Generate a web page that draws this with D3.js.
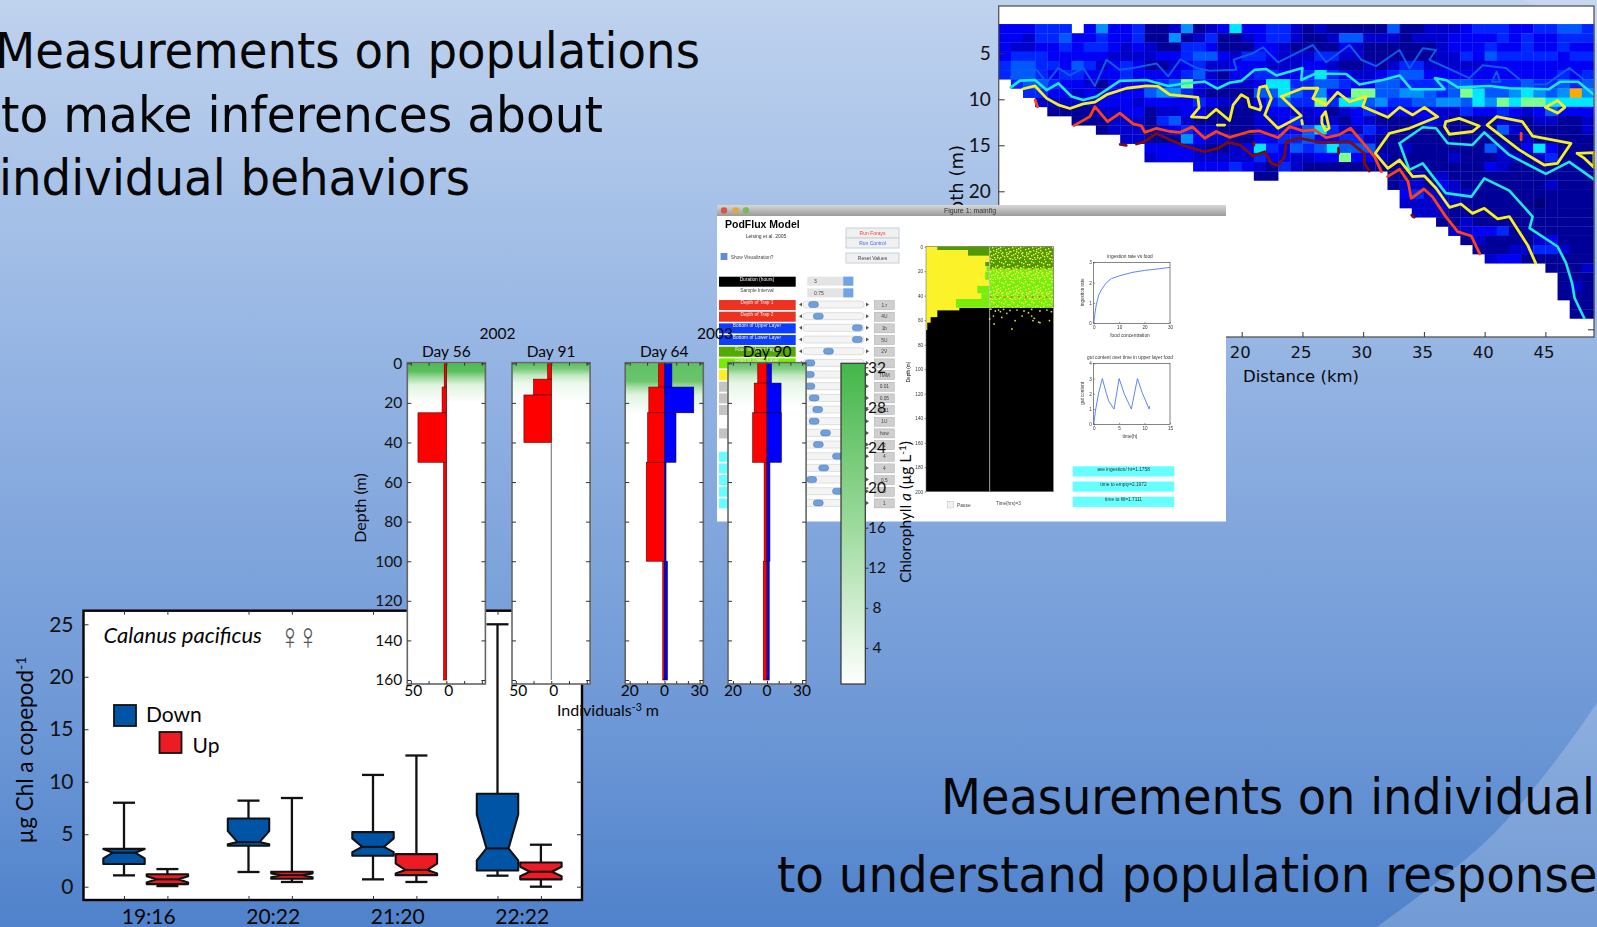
<!DOCTYPE html>
<html>
<head>
<meta charset="utf-8">
<title>Measurements on populations and individuals</title>
<script src="https://cdn.jsdelivr.net/npm/d3@7"></script>
<style>
  html, body { margin: 0; padding: 0; overflow: hidden; background: #5a8ad0; }
  svg { display: block; }
  .lato { font-family: Lato, "Open Sans", sans-serif; }
  .dejavu { font-family: "DejaVu Sans", sans-serif; }
  .pod text { font-family: "Liberation Sans", sans-serif; }
  .domain { display: none; }
</style>
</head>
<body>
<svg id="slide"></svg>
<script>
// ---- headline text
const topLines = ["Measurements on populations", "to make inferences about", "individual behaviors"];
const bottomLines = ["Measurements on individuals", "to understand population responses"];

// ---- box plot (ug Chl a per copepod), one entry per box: low, q1, notchLow, median, notchHigh, q3, high
const boxTimes = ["19:16", "20:22", "21:20", "22:22"];
const boxTicks = [0, 5, 10, 15, 20, 25];
const boxDown = [
  [1.08, 2.16, 2.7, 3.24, 3.6, 3.6, 8.0],
  [1.4, 3.9, 4.05, 4.25, 5.3, 6.5, 8.2],
  [0.7, 2.95, 3.3, 3.8, 4.6, 5.2, 10.65],
  [1.05, 1.55, 2.5, 3.65, 6.85, 8.85, 25.0]
];
const boxUp = [
  [0.06, 0.25, 0.4, 0.7, 1.0, 1.18, 1.68],
  [0.45, 0.76, 0.9, 1.1, 1.27, 1.43, 8.45],
  [0.45, 1.1, 1.27, 1.6, 2.2, 3.1, 12.5],
  [0.0, 0.7, 1.0, 1.43, 1.9, 2.3, 4.0]
];

// ---- vertical profiles, depth bins and individuals m-3
const depthTicks = [0, 20, 40, 60, 80, 100, 120, 140, 160];
const day56Depths = [0, 12, 25, 50, 160];
const day56Red = [3, 6, 40, 4];
const day91Depths = [0, 8, 16, 40, 160];
const day91Red = [5, 25, 38.5, 0];
const day64Depths = [0, 12, 25, 50, 100, 160];
const day64Red = [3.4, 9, 9.7, 10.5, 1];
const day64Blue = [6.3, 25, 9.8, 1.3, 2.5];
const day90Depths = [0, 10, 25, 50, 100, 160];
const day90Red = [5.4, 7.5, 8.4, 1.7, 2.2];
const day90Blue = [3.8, 12, 12.3, 2.5, 1.9];
const wideTicks = [-50, -25, 0, 25, 50];
const wideLabels = [-50, 0];
const narrowTicks = [-20, -10, 0, 10, 20, 30];
const narrowLabels = [-20, 0, 30];

// chlorophyll (ug/L) at depth, behind each profile
const day56ChlDepth = [0, 4, 7, 11, 20];
const day56Chl = [30, 28, 16, 5, 0];
const day91ChlDepth = [0, 3, 6, 10, 20];
const day91Chl = [28, 22, 10, 3, 0];
const day64ChlDepth = [0, 9, 12, 16, 26];
const day64Chl = [27, 25, 14, 5, 0];
const day90ChlDepth = [0, 3, 6, 10, 22];
const day90Chl = [26, 20, 10, 4, 0];
const chlTicks = [4, 8, 12, 16, 20, 24, 28, 32];

// ---- transect, one string per km of distance, one digit per metre of depth (colour level 0-9)
const heatColumns = [
  "333344", "3324554", "32245554", "443444542", "4433434321", "4543343321", ".3335432211", "33434323211",
  "644323123211", "333233333222", "3322443333222", "4432333323222", "112213353111132", "111313463242133",
  "261323563253133", "614434843324633", "1245453243123223", "2435223131122123", "3113212121112123",
  "7112332121111224", "3214332111111323", "33343435322237421", "44332475432234311", "4422237753334334",
  "2212234542434522", "1112344442255421", "2114375683273531", "1214245341243731", "1532134372124581",
  "1522123873324531", "1211223854242531", "1211135563121121", "521124554311111111", "11114546431112111232",
  "121145465321111122422", "221123455331111111222", "2222234462211111232221", "23322355621111211222112",
  "333423585411111111211221", "4333234773111111111111321", "43453345631115131111113112",
  "44343345842512221111114113", "33343346732211211111111123", "34443357821123111111111121",
  "43343346832117211110111241", "433433457521134112111113411", "544334567311111111111111211111",
  "54343349731111111111111111112111", "44343456732211111111111111211111"
];
const heatDepthTicks = [5, 10, 15, 20];
const heatDistTicks = [20, 25, 30, 35, 40, 45];

// contours: [km, depth]
const contourBlue = [[1, 7.6], [2.03, 6.8], [3.12, 6.8], [3.95, 8.2], [4.9, 6.6], [5.86, 7.4], [6.96, 6.6], [7.92, 8.55], [8.88, 5.7], [9.97, 6.8], [11.07, 6.6], [12.99, 6.1], [13.95, 7.5], [14.96, 5.65], [16.27, 6.6], [17.37, 6.9], [19.56, 6.8], [19.34, 5.7], [20.9, 5], [21.75, 4.35], [22.99, 5.98], [25.86, 4.1], [26.96, 5.98], [28.88, 4.1], [29.84, 5.7], [31.07, 6.4], [32.99, 4.64], [33.81, 6.63], [34.9, 4.46], [36, 4.64], [35.45, 5.7], [38.74, 7.7], [39.84, 6.3], [41.75, 6.6], [43.4, 8.4], [45.04, 8.4], [46.96, 6.6], [48.9, 8.6]];
const contourBlueIslands = [[[40.98, 7], [41.3, 8.1], [40.6, 8.1], [40.98, 7]]];
const contourCyan = [[0.99, 8.7], [1.75, 7.97], [2.99, 7.9], [3.95, 9], [4.9, 8.26], [6, 9.7], [6.96, 10.07], [8.05, 9.7], [9.97, 8], [12.16, 7.9], [13.95, 8.55], [15.45, 8.26], [16.96, 8.08], [18, 8.84], [19, 8.2], [19.97, 8], [21.07, 6.8], [22, 6.7], [22.85, 7.4], [25, 6.6], [24.9, 7.9], [26.1, 7.2], [28.6, 7.25], [29.7, 8.4], [31.6, 7.9], [33, 7.4], [33.95, 8.9], [36.7, 8.9], [35.9, 7.7], [36.8, 7.9], [37.8, 8.7], [40.4, 8.55], [42.05, 8.8], [45.3, 8.9], [46.2, 8.1], [47.7, 8.1], [49, 9.5]];
const contourCyanMid = [[33, 14.78], [34.9, 13.04], [36, 13.15], [36.96, 14.78], [39, 14.96], [39.97, 13.6], [42.03, 16.05], [45.04, 18.1], [46.96, 16.8], [49, 18.7]];
const contourCyanLow = [[33, 14.78], [33.8, 17.68], [34.9, 16.96], [36.8, 20.2], [38.9, 20.58], [39.97, 18.6], [42.03, 19.93], [43.95, 22.75], [43.7, 24], [46, 26], [46.7, 27.8], [47.2, 30], [47.4, 31.6], [48.2, 33.8]];
const contourYellow = [[1.97, 8.88], [2.99, 8.55], [3.95, 9.9], [4.9, 10.6], [5.86, 11], [6.96, 10.5], [7.92, 10.3], [8.88, 9.5], [10.52, 8.8], [12.16, 8.55], [13.12, 8.6], [14.08, 9.5], [16.4, 9.8], [16.5, 10.9], [15.86, 11.9], [17.1, 12], [17.9, 11.1], [19, 12.3], [19.3, 10.6], [19.97, 9.5], [20.5, 9.9], [20.66, 10.8], [21.5, 11.16], [21.6, 10.8], [21.34, 9.7], [21.48, 8.7], [22, 8.55], [22.44, 9.9], [21.9, 11.7], [22.99, 13.15], [24.9, 11.8], [23.26, 9.7], [25, 8.8], [26.27, 8.8], [25.86, 9.9], [26.96, 10.6], [27.9, 9.24], [28.88, 10.25], [30.25, 9.7], [29.97, 10.8], [32.03, 11.96], [33, 10.87], [34.08, 11.7], [35.04, 10.87], [36.14, 11.9], [33.81, 13.15], [32.16, 13.7], [31, 15.87], [32.03, 17.5], [33, 16.6], [34.08, 18.4], [35.04, 18.33], [36, 19.67], [37.1, 21.74], [38.05, 21.38], [39, 22.4], [39.97, 21.85], [41.07, 23], [42.03, 22.75], [43.53, 25.83], [44.2, 27.8]];
const contourYellowIslands = [
  [[36.8, 12.43], [37.9, 12.07], [39.56, 12.9], [39, 13.5], [37.1, 13.8], [36.7, 12.97], [36.8, 12.43]],
  [[41, 11.88], [43.1, 12.43], [43.95, 14], [47.1, 14.8], [46, 16.96], [44.9, 17.14], [42.85, 15.5], [40.2, 12.8], [41, 11.88]],
  [[45, 10.87], [46, 10.14], [46.6, 10.87], [46, 11.5], [45, 10.87]],
  [[26.6, 11.88], [26.9, 11.34], [27.2, 13.15], [26.9, 13.4], [26.6, 12.6], [26.6, 11.88]],
  [[47.6, 15.87], [49, 15.8], [49, 17.4], [48.2, 16.4], [47.6, 15.87]],
  [[18, 12.8], [18.6, 12.8]],
  [[24.95, 12.3], [25, 12.7]]
];
const contourRed = [[6.19, 12.86], [7.5, 11.88], [7.92, 10.8], [8.96, 12.43], [9.97, 11.5], [11.07, 12.68], [11.75, 12.9], [12.03, 13.6], [12.99, 13.15], [14.08, 13.5], [14.9, 13.6], [15.95, 13], [16.96, 14.24], [17.9, 13.5], [19, 14.13], [20.66, 13.5], [21.5, 13.44], [22.99, 14.17], [23.96, 12.97], [25.03, 13.44], [26, 13.33], [26.96, 14.17], [28, 13.87], [28.96, 13.15], [30.25, 15.14], [30.93, 16.23], [31.5, 17.86]];
const contourRedLow = [[32, 18.4], [33, 17.6], [33.7, 18.95], [33.95, 20.76], [35, 19.75], [35.7, 20.6], [36.8, 22.75], [37.78, 24.38], [38.9, 24.86], [39.6, 26.8]];
const contourRedSmall = [[[3, 10.07], [3.2, 10.8]], [[43, 13.7], [43, 14.4]]];
const contourDark = [[11.34, 14.86], [11.95, 14.64], [12.99, 13.7], [14.08, 14.4], [15.18, 15], [16.96, 15.7], [18.05, 15.33], [18.88, 14.67], [19.84, 14.96], [20.93, 16.16], [21.9, 15.7], [22.44, 16.96], [22.99, 17.2], [23.53, 16.23], [23.67, 14.6], [24.77, 14.24], [26.68, 14.7], [28.88, 14.6], [30.1, 15.87], [30.1, 16.96], [30.5, 17.8]];
const contourDarkSmall = [[[10, 14.9], [10.5, 15]], [[21, 14.7], [21, 15]], [[27.97, 15.3], [27.97, 15.9]], [[34, 22.6], [34.2, 22.8]]];

// ---- PodFlux model window
const podLabels = ["Duration (hours)", "Sample Interval", "Depth of Trap 1", "Depth of Trap 2", "Bottom of Upper Layer", "Bottom of Lower Layer", "Food in Upper Layer", "Food in Lower Layer", "", "", "", "", "", "", "", "", "", "", "", ""];
const podFills = ["#000", "#fff", "#ee3322", "#ee3322", "#0a3cff", "#0a3cff", "#55aa00", "#77ee00", "#ffee22", "#c4c4c4", "#c4c4c4", "#c4c4c4", "#fff", "#c4c4c4", "#fff", "#66ffff", "#66ffff", "#66ffff", "#66ffff", "#66ffff"];
const podSliders = [null, null, 0.17, 0.25, 0.9, 0.9, 0.42, 0.11, 0.1, 0.11, 0.18, 0.24, 0.18, 0.37, 0.25, 0.57, 0.34, 0.14, 0.57, 0.25];
const podValues = ["", "", "1.r", "4U", "1b", "5U", "2V", "", "TMM", "0.01", "0.05", "0.11", "1U", "how", "2", "4", "4", "0.5", "3", "1"];
const podSpinners = ["3", "0.75"];
const ingestFood = [0, 0.5, 1, 2, 3, 5, 7, 10, 15, 20, 25, 30];
const ingestRate = [0, 0.5, 0.9, 1.4, 1.65, 2.0, 2.2, 2.33, 2.5, 2.6, 2.67, 2.75];
const gutTime = [0, 0.4, 1, 1.7, 2.5, 3, 4, 5, 6, 7.4, 8.6, 9.5, 10.9, 11];
const gutContent = [0, 1, 2.1, 3, 2, 1.5, 1, 3, 2, 1, 3, 2.1, 1, 1.2];
const podReadouts = ["ave ingestion/ hr=1.1758", "time to empty=2.1972", "time to fill=1.7111"];
// t, t, depth, depth of the coloured blocks in the left half of the animation
const blocksYellow = [[0, 1, 0, 50], [0, 0.524, 0, 52], [0, 0.178, 0, 57.5], [0, 0.073, 0, 62], [0, 0.02, 0, 68]];
const blocksDark = [[0.178, 1, 0, 2.7], [0.66, 1, 0, 7.3], [0.93, 1, 12.5, 15.8]];
const blocksLime = [[0.47, 1, 42.7, 49.8], [0.87, 1, 38, 42.7], [0.806, 1, 32, 38], [0.93, 1, 20.4, 27], [0.95, 1, 16, 20]];
const strayT = [1.02, 1.09, 1.14, 1.22, 1.32, 1.43, 1.54, 1.66, 1.79, 1.9, 1.97, 1.06, 1.19, 1.0, 1.4, 1.66, 1.7, 1.68, 1.51, 1.79, 1.94, 1.07, 1.35, 1.77, 1.17, 1.27, 1.61];
const strayD = [51, 52.5, 51.7, 51.2, 52, 51.7, 52.5, 51.2, 52.5, 51.7, 53, 56.6, 57.7, 59, 60.4, 56.6, 58.5, 60.4, 56.6, 62, 60.4, 63.1, 67.2, 61.5, 53, 54.4, 53.9];
const speckleX = [1, 5, 9, 13, 17, 3, 8, 12, 16, 19, 0, 6, 10, 15, 2, 7, 11, 18, 4, 9, 14, 1, 12, 17, 3, 7, 11, 15, 18, 0, 5, 9, 13, 17, 2, 6, 13, 16, 8, 19, 4, 10, 15, 0];
const speckleY = [2, 1, 4, 2, 5, 6, 8, 7, 9, 1, 10, 12, 11, 13, 15, 16, 15, 12, 19, 18, 17, 13, 19, 17, 3, 4, 1, 6, 8, 7, 9, 11, 10, 15, 12, 14, 14, 11, 13, 18, 16, 18, 19, 17];

const W = 1597, H = 927;
const BLUE = "#0054a6", RED = "#ed1c24";

const svg = d3.select("#slide").attr("width", W).attr("height", H).attr("fill", "#060606");
const defs = svg.append("defs");

const addGradient = (id, stops) => {
  const g = defs.append("linearGradient").attr("id", id).attr("x1", 0).attr("y1", 0).attr("x2", 0).attr("y2", 1);
  stops.forEach(s => g.append("stop").attr("offset", s[0]).attr("stop-color", s[1]));
};
addGradient("bg", [[0, "#bfd2ee"], [0.25, "#a3bfe7"], [0.55, "#84a8de"], [0.8, "#6b96d5"], [1, "#4f82cb"]]);
addGradient("titlebar", [[0, "#d8d8d8"], [1, "#9a9a9a"]]);
const addBlur = (id, amount) => defs.append("filter").attr("id", id)
  .attr("x", "-2%").attr("y", "-2%").attr("width", "104%").attr("height", "104%")
  .append("feGaussianBlur").attr("stdDeviation", amount);
addBlur("soft", 0.45);
addBlur("softer", 0.65);
const speckle = defs.append("pattern").attr("id", "speckle").attr("patternUnits", "userSpaceOnUse").attr("width", 20).attr("height", 20);
speckle.selectAll("rect").data(speckleX).enter().append("rect")
  .attr("x", d => d).attr("y", (d, i) => speckleY[i]).attr("width", 1.4).attr("height", 1.4).attr("fill", "#f4f44a");

// background and the pale swooshes
svg.append("rect").attr("width", W).attr("height", H).attr("fill", "url(#bg)");
svg.append("path").attr("fill", "#fff").attr("opacity", 0.2)
  .attr("d", d3.line().curve(d3.curveCatmullRom)([[1377, 927], [1483, 844], [1550, 768], [1597, 703]]) + `L${W},${H}Z`);
svg.append("path").attr("fill", "#fff").attr("opacity", 0.15).attr("d", `M1525,0L${W},0L${W},40Z`);

// headline text
const addLines = (lines, xs, ys, widths) => {
  svg.append("g").attr("class", "dejavu").selectAll("text").data(lines).enter().append("text")
    .attr("x", (d, i) => xs[i]).attr("y", (d, i) => ys[i])
    .attr("font-size", 49)
    .attr("textLength", (d, i) => widths[i]).attr("lengthAdjust", "spacingAndGlyphs")
    .text(d => d);
};
addLines(topLines, [-5, 1, -1], [68, 132, 195], [705, 602, 471]);
addLines(bottomLines, [941, 777], [814, 892], [678, 845]);

const styleAxis = (sel, size, family) => {
  sel.selectAll("line").attr("stroke", "#333").attr("stroke-width", 1);
  sel.selectAll("text").attr("font-size", size).attr("font-family", family).attr("fill", "#111");
};

// ---------- transect heat map
const drawHeat = () => {
  const g = svg.append("g");
  const fx = [998.7, 1594], fy = [6, 337];
  const x = d3.scaleLinear().domain([0, 49]).range(fx);
  const y = d3.scaleLinear().domain([5, 35]).range([53.3, 329.3]);
  const firstDepth = 1.82;
  const jet = d3.scaleLinear().domain(d3.range(10))
    .range(["#00007a", "#000099", "#0000cc", "#0000f5", "#0028ff", "#0058ff", "#0090ff", "#00e8ff", "#7dff8c", "#ffa800"]);
  g.append("rect").attr("x", fx[0]).attr("y", fy[0]).attr("width", fx[1] - fx[0]).attr("height", fy[1] - fy[0]).attr("fill", "#fff");

  const plot = g.append("g").attr("filter", "url(#softer)");
  const cells = [];
  heatColumns.forEach((col, km) => {
    col.split("").forEach((c, r) => {
      if (c !== ".") cells.push({ km, r, v: +c });
    });
  });
  plot.selectAll("rect.cell").data(cells).enter().append("rect").attr("class", "cell")
    .attr("x", d => x(d.km)).attr("y", d => y(firstDepth + d.r))
    .attr("width", x(1) - x(0) + 0.3).attr("height", y(1) - y(0) + 0.3)
    .attr("fill", d => jet(d.v));

  const lines = g.append("g").attr("filter", "url(#soft)");
  const line = d3.line().x(d => x(d[0])).y(d => y(d[1]));
  const drawContours = (list, color, w) => {
    lines.append("g").selectAll("path").data(list).enter().append("path")
      .attr("d", line).attr("fill", "none").attr("stroke", color).attr("stroke-width", w)
      .attr("stroke-linejoin", "round").attr("stroke-linecap", "round");
  };
  drawContours([contourBlue, ...contourBlueIslands], "#0a5ce6", 2);
  drawContours([contourCyan, contourCyanMid, contourCyanLow], "#1ee8e0", 2.6);
  drawContours([contourYellow, ...contourYellowIslands], "#f5f01e", 2.8);
  drawContours([contourRed, contourRedLow, ...contourRedSmall], "#ff4212", 2.8);
  drawContours([contourDark, ...contourDarkSmall], "#7d0a0a", 2.8);

  g.append("rect").attr("x", fx[0]).attr("y", fy[0]).attr("width", fx[1] - fx[0]).attr("height", fy[1] - fy[0])
    .attr("fill", "none").attr("stroke", "#555").attr("stroke-width", 1.3);

  g.append("g").attr("transform", `translate(${fx[0]},0)`)
    .call(d3.axisLeft(y).tickValues(heatDepthTicks).tickSizeInner(-6).tickSizeOuter(0).tickPadding(8))
    .call(styleAxis, 19, "Lato");
  g.append("g").attr("transform", `translate(${fx[1]},0)`)
    .call(d3.axisRight(y).tickValues([35]).tickSizeInner(-6).tickSizeOuter(0).tickFormat(""))
    .call(styleAxis, 19, "Lato");
  g.append("g").attr("transform", `translate(0,${fy[1]})`)
    .call(d3.axisBottom(x).tickValues(heatDistTicks).tickSizeInner(-5).tickSizeOuter(0).tickPadding(9))
    .call(styleAxis, 16.5, "DejaVu Sans")
    .selectAll("text").attr("dx", -2);
  g.append("text").attr("class", "dejavu").attr("x", 1301).attr("y", 382).attr("text-anchor", "middle").attr("font-size", 16.5).text("Distance (km)");
  g.append("text").attr("class", "dejavu").attr("font-size", 18).attr("text-anchor", "middle")
    .attr("transform", "translate(963,191) rotate(-90)").text("Depth (m)");
};

// ---------- PodFlux window
const drawPod = () => {
  const g = svg.append("g").attr("class", "pod").attr("filter", "url(#soft)");
  g.append("rect").attr("x", 717).attr("y", 205).attr("width", 509).attr("height", 316.5).attr("fill", "#fff");
  g.append("rect").attr("x", 717).attr("y", 205).attr("width", 509).attr("height", 11).attr("fill", "url(#titlebar)");
  [[724, "#d9534a"], [735.7, "#e0a93a"], [746, "#7cb85a"]].forEach(b =>
    g.append("circle").attr("cx", b[0]).attr("cy", 210.5).attr("r", 3.2).attr("fill", b[1]));
  g.append("text").attr("x", 970).attr("y", 213).attr("text-anchor", "middle").attr("font-size", 7).attr("fill", "#333").text("Figure 1: mainfig");
  g.append("text").attr("x", 725).attr("y", 228).attr("font-size", 10.5).attr("font-weight", "bold").text("PodFlux Model");
  g.append("text").attr("x", 766).attr("y", 238).attr("text-anchor", "middle").attr("font-size", 5).attr("fill", "#333").text("Leising et al. 2005");

  // buttons
  [["Run Forays", 228, "#ee4433"], ["Run Control", 238, "#4466ee"], ["Reset Values", 253, "#444"]].forEach(b => {
    g.append("rect").attr("x", 846).attr("y", b[1]).attr("width", 53).attr("height", 10).attr("fill", "#f0f0f0").attr("stroke", "#c6d0dc");
    g.append("text").attr("x", 872.5).attr("y", b[1] + 6.5).attr("text-anchor", "middle").attr("font-size", 5).attr("fill", b[2]).text(b[0]);
  });
  g.append("rect").attr("x", 720.6).attr("y", 253).attr("width", 6.8).attr("height", 7).attr("fill", "#5a8fd8");
  g.append("text").attr("x", 730.7).attr("y", 258.7).attr("font-size", 4.8).attr("fill", "#444").text("Show Visualization?");

  // control rows
  const rowY = d3.scaleLinear().domain([0, 19]).range([276.7, 498.4]);
  const sliderX = d3.scaleLinear().domain([0, 1]).range([803.3, 863.3]);
  const rows = g.append("g").selectAll("g").data(podFills).enter().append("g")
    .attr("transform", (d, i) => `translate(0,${rowY(i)})`);
  rows.append("rect").attr("x", 719).attr("width", 76.7).attr("height", 10).attr("fill", d => d);
  rows.append("text").attr("x", 757).attr("y", 4).attr("text-anchor", "middle").attr("font-size", 4.8)
    .attr("fill", (d, i) => (i === 1 ? "#444" : "#eee")).text((d, i) => podLabels[i]);
  const sliding = rows.filter((d, i) => podSliders[i] !== null);
  const offset = podFills.length - sliding.size();
  sliding.append("rect").attr("x", 803).attr("y", 1).attr("width", 61).attr("height", 7).attr("rx", 3).attr("fill", "#f4f4f4").attr("stroke", "#ccc").attr("stroke-width", 0.6);
  sliding.append("path").attr("d", "M799,4.5l3,-2v4Z").attr("fill", "#555");
  sliding.append("path").attr("d", "M869,4.5l-3,-2v4Z").attr("fill", "#555");
  sliding.append("rect").attr("x", (d, i) => sliderX(podSliders[offset + i]) - 5).attr("y", 1.5).attr("width", 10).attr("height", 6).attr("rx", 3)
    .attr("fill", "#6f9fdc").attr("stroke", "#4a78b8").attr("stroke-width", 0.5);
  sliding.append("rect").attr("x", 874.3).attr("y", 0.5).attr("width", 20).attr("height", 9).attr("fill", "#cfcfcf").attr("stroke", "#aaa").attr("stroke-width", 0.5);
  sliding.append("text").attr("x", 884.3).attr("y", 6.6).attr("text-anchor", "middle").attr("font-size", 4.8).attr("fill", "#444")
    .text((d, i) => podValues[offset + i]);
  podSpinners.forEach((s, i) => {
    const sy = rowY(i);
    g.append("rect").attr("x", 807.3).attr("y", sy).attr("width", 46).attr("height", 9).attr("fill", "#e4e4e4");
    g.append("rect").attr("x", 843.3).attr("y", sy).attr("width", 10).attr("height", 9).attr("fill", "#6fa4e6");
    g.append("text").attr("x", 814).attr("y", sy + 6.5).attr("font-size", 5).attr("fill", "#444").text(s);
  });

  // animation panel
  const tx = d3.scaleLinear().domain([0, 2]).range([926, 1053.3]);
  const dy = d3.scaleLinear().domain([0, 200]).range([246.7, 491.7]);
  const block = (list, fill) => g.append("g").selectAll("rect").data(list).enter().append("rect")
    .attr("x", d => tx(d[0])).attr("width", d => tx(d[1]) - tx(d[0]))
    .attr("y", d => dy(d[2])).attr("height", d => dy(d[3]) - dy(d[2])).attr("fill", fill);
  block([[0, 2, 0, 200]], "#000");
  block(blocksYellow, "#fbf22a");
  block(blocksDark, "#4f9a00");
  block(blocksLime, "#77ee11");
  block([[1, 2, 0, 17]], "#4f9a00");
  block([[1, 2, 17, 50]], "#77ee11");
  block([[1, 2, 0, 50]], "url(#speckle)");
  g.append("g").selectAll("circle").data(strayT).enter().append("circle")
    .attr("cx", d => tx(d)).attr("cy", (d, i) => dy(strayD[i])).attr("r", 0.9).attr("fill", "#e0d830");
  [18, 41].forEach(d => g.append("line").attr("x1", tx(1)).attr("x2", tx(2)).attr("y1", dy(d)).attr("y2", dy(d))
    .attr("stroke", "#e22").attr("stroke-width", 1.1).attr("stroke-dasharray", "2 5"));
  g.append("line").attr("x1", tx(1)).attr("x2", tx(1)).attr("y1", dy(0)).attr("y2", dy(200)).attr("stroke", "#ccc").attr("stroke-width", 0.8);
  g.append("rect").attr("x", 926).attr("y", 246.7).attr("width", 127.3).attr("height", 245).attr("fill", "none").attr("stroke", "#777").attr("stroke-width", 0.6);
  const tinyAxis = sel => {
    sel.selectAll("line").attr("stroke", "#333").attr("stroke-width", 0.5);
    sel.selectAll("text").attr("font-size", 4.6).attr("fill", "#333");
  };
  g.append("g").attr("transform", "translate(926,0)")
    .call(d3.axisLeft(dy).tickValues(d3.range(0, 201, 20)).tickSize(1.5).tickPadding(1.5)).call(tinyAxis);
  g.append("text").attr("transform", "translate(910,372) rotate(-90)").attr("text-anchor", "middle").attr("font-size", 4.6).text("Depth (m)");
  g.append("rect").attr("x", 947.5).attr("y", 501.5).attr("width", 6).attr("height", 6.5).attr("fill", "#f2f2f2").attr("stroke", "#bbb").attr("stroke-width", 0.5);
  g.append("text").attr("x", 957).attr("y", 506.5).attr("font-size", 4.8).attr("fill", "#444").text("Pause");
  g.append("text").attr("x", 996).attr("y", 505).attr("font-size", 4.6).attr("fill", "#444").text("Time(hrs)=3");

  // small line plots
  const smallPlot = (top, xDom, yDom, xTicks, yTicks, xs, ys, title, xLabel, yLabel) => {
    const px = d3.scaleLinear().domain(xDom).range([1093.7, 1170]);
    const py = d3.scaleLinear().domain(yDom).range([top + 61, top]);
    g.append("rect").attr("x", 1093.7).attr("y", top).attr("width", 76.3).attr("height", 61).attr("fill", "#fff").attr("stroke", "#333").attr("stroke-width", 0.6);
    g.append("g").attr("transform", `translate(0,${top + 61})`)
      .call(d3.axisBottom(px).tickValues(xTicks).tickSize(-1.5).tickPadding(2).tickFormat(d3.format("d"))).call(tinyAxis);
    g.append("g").attr("transform", "translate(1093.7,0)")
      .call(d3.axisLeft(py).tickValues(yTicks).tickSize(-1.5).tickPadding(2).tickFormat(d3.format("d"))).call(tinyAxis);
    g.append("path").attr("fill", "none").attr("stroke", "#4a78f0").attr("stroke-width", 0.9)
      .attr("d", d3.line().x((d, i) => px(xs[i])).y((d, i) => py(ys[i]))(xs));
    g.append("text").attr("x", 1130).attr("y", top - 4).attr("text-anchor", "middle").attr("font-size", 4.8).attr("fill", "#333").text(title);
    g.append("text").attr("x", 1130).attr("y", top + 75).attr("text-anchor", "middle").attr("font-size", 4.8).attr("fill", "#333").text(xLabel);
    g.append("text").attr("transform", `translate(1084,${top + 30}) rotate(-90)`).attr("text-anchor", "middle").attr("font-size", 4.6).attr("fill", "#333").text(yLabel);
  };
  smallPlot(262.3, [0, 30], [0, 3], [0, 10, 20, 30], [0, 1, 2, 3], ingestFood, ingestRate, "ingestion rate vs food", "food concentration", "ingestion rate");
  smallPlot(363.3, [0, 15], [0, 4], [0, 5, 10, 15], [0, 1, 2, 3, 4], gutTime, gutContent, "gut content over time in upper layer food", "time(h)", "gut content");

  const readoutY = d3.scaleLinear().domain([0, 2]).range([466.3, 496.7]);
  podReadouts.forEach((t, i) => {
    g.append("rect").attr("x", 1072.7).attr("y", readoutY(i)).attr("width", 101.6).attr("height", 10.2).attr("fill", "#66ffff");
    g.append("text").attr("x", 1123.5).attr("y", readoutY(i) + 4.5).attr("text-anchor", "middle").attr("font-size", 4.8).attr("fill", "#333").text(t);
  });
};

// ---------- box plot
const drawBoxes = () => {
  const g = svg.append("g").attr("class", "lato");
  const fx = [83.5, 582], fy = [610.7, 900];
  const x = d3.scalePoint().domain(boxTimes).range([145.7, 519.2]);
  const y = d3.scaleLinear().domain([0, 25]).range([886.7, 624.3]);
  const dodge = 21.7, half = 20.7, waist = 11, cap = 11;
  g.append("rect").attr("x", fx[0]).attr("y", fy[0]).attr("width", fx[1] - fx[0]).attr("height", fy[1] - fy[0])
    .attr("fill", "#fff").attr("stroke", "#000").attr("stroke-width", 2.4);

  const drawSet = (values, sign, fill) => {
    const sets = g.append("g").selectAll("g").data(values).enter().append("g")
      .attr("transform", (d, i) => `translate(${x(boxTimes[i]) + sign * dodge},0)`);
    sets.append("line").attr("y1", d => y(d[0])).attr("y2", d => y(d[6])).attr("stroke", "#111").attr("stroke-width", 2.3);
    sets.append("line").attr("x1", -cap).attr("x2", cap).attr("y1", d => y(d[0])).attr("y2", d => y(d[0])).attr("stroke", "#111").attr("stroke-width", 2.3);
    sets.append("line").attr("x1", -cap).attr("x2", cap).attr("y1", d => y(d[6])).attr("y2", d => y(d[6])).attr("stroke", "#111").attr("stroke-width", 2.3);
    sets.append("path").attr("fill", fill).attr("stroke", "#111").attr("stroke-width", 2.1).attr("stroke-linejoin", "round")
      .attr("d", d => d3.line()([
        [-half, y(d[1])], [-half, y(d[2])], [-waist, y(d[3])], [-half, y(d[4])], [-half, y(d[5])],
        [half, y(d[5])], [half, y(d[4])], [waist, y(d[3])], [half, y(d[2])], [half, y(d[1])]
      ]) + "Z");
    sets.append("line").attr("x1", -waist).attr("x2", waist).attr("y1", d => y(d[3])).attr("y2", d => y(d[3])).attr("stroke", "#111").attr("stroke-width", 2);
  };
  drawSet(boxDown, -1, BLUE);
  drawSet(boxUp, 1, RED);

  g.append("g").attr("transform", `translate(${fx[0]},0)`)
    .call(d3.axisLeft(y).tickValues(boxTicks).tickSizeInner(-5).tickSizeOuter(0).tickPadding(10))
    .call(styleAxis, 21, "Lato");
  g.append("g").attr("transform", `translate(${fx[1]},0)`)
    .call(d3.axisRight(y).tickValues(boxTicks).tickSizeInner(-5).tickSizeOuter(0).tickFormat(""))
    .call(styleAxis, 21, "Lato");
  const tickXs = boxTimes.flatMap(t => [x(t) - dodge, x(t) + dodge]);
  const tickScale = d3.scaleIdentity();
  g.append("g").attr("transform", `translate(0,${fy[1]})`)
    .call(d3.axisBottom(tickScale).tickValues(tickXs).tickSizeInner(-4).tickSizeOuter(0).tickFormat(""))
    .call(styleAxis, 20, "Lato");
  g.append("g").attr("transform", `translate(0,${fy[0]})`)
    .call(d3.axisTop(tickScale).tickValues(tickXs).tickSizeInner(-4).tickSizeOuter(0).tickFormat(""))
    .call(styleAxis, 20, "Lato");
  g.append("g").selectAll("text.cat").data(boxTimes).enter().append("text").attr("class", "cat")
    .attr("x", d => x(d) + 3).attr("y", 923.5).attr("text-anchor", "middle").attr("font-size", 21).text(d => d);

  const label = g.append("text").attr("transform", "translate(33,750) rotate(-90)").attr("text-anchor", "middle").attr("font-size", 22.5);
  label.append("tspan").text("µg Chl a copepod");
  label.append("tspan").attr("dy", -7).attr("font-size", 14).text("-1");

  const title = g.append("text").attr("x", 103.5).attr("y", 642.7).attr("font-size", 22);
  title.append("tspan").attr("font-style", "italic").text("Calanus pacificus");
  g.append("text").attr("transform", "translate(279,649) scale(1.15,1.5)").attr("font-size", 25).attr("font-family", "DejaVu Sans")
    .attr("font-weight", 200).attr("letter-spacing", -3).attr("fill", "#555").text("♀♀");

  // legend
  [["Down", 114, 705, BLUE, 146, 721.7], ["Up", 159.5, 732, RED, 192.6, 752.7]].forEach(l => {
    g.append("rect").attr("x", l[1]).attr("y", l[2]).attr("width", 22).attr("height", 21).attr("fill", l[3]).attr("stroke", "#111").attr("stroke-width", 1.8);
    g.append("text").attr("x", l[4]).attr("y", l[5]).attr("font-size", 21).text(l[0]);
  });
};

// ---------- vertical profiles
const chlColor = d3.scaleLinear().domain([0, 16, 32]).range(["#ffffff", "#9bd99b", "#43b649"]);
const depth = d3.scaleLinear().domain([0, 160]).range([363.3, 680]);

// red counts run to the left of a shared zero, blue to the right
const drawProfile = (id, name, left, xScale, ticks, labels, labelDx, depths, red, blue, chlDepth, chl, showDepth) => {
  const g = svg.append("g").attr("class", "lato");
  const right = left + 78.1, top = 362.7, bottom = 684;
  g.append("rect").attr("x", left).attr("y", top).attr("width", right - left).attr("height", bottom - top).attr("fill", "#fff");

  const maxChl = chlDepth[chlDepth.length - 1];
  addGradient(id, chlDepth.map((d, i) => [d / maxChl, chlColor(chl[i])]));
  g.append("rect").attr("x", left).attr("y", depth(0)).attr("width", right - left).attr("height", depth(maxChl) - depth(0)).attr("fill", `url(#${id})`);

  g.append("line").attr("x1", xScale(0)).attr("x2", xScale(0)).attr("y1", depth(0)).attr("y2", depth(160)).attr("stroke", "#444").attr("stroke-width", 0.8);
  const bins = red.map((r, i) => ({ d0: depths[i], d1: depths[i + 1], r, b: blue ? blue[i] : 0 })).filter(d => d.r > 0);
  g.append("g").selectAll("rect").data(bins).enter().append("rect")
    .attr("x", d => xScale(-d.r)).attr("width", d => xScale(0) - xScale(-d.r))
    .attr("y", d => depth(d.d0)).attr("height", d => depth(d.d1) - depth(d.d0))
    .attr("fill", "#f00").attr("stroke", "#500").attr("stroke-width", 0.6);
  if (blue) {
    g.append("g").selectAll("rect").data(bins).enter().append("rect")
      .attr("x", xScale(0)).attr("width", d => xScale(d.b) - xScale(0))
      .attr("y", d => depth(d.d0)).attr("height", d => depth(d.d1) - depth(d.d0))
      .attr("fill", "#00f").attr("stroke", "#005").attr("stroke-width", 0.6);
  }
  g.append("rect").attr("x", left).attr("y", top).attr("width", right - left).attr("height", bottom - top)
    .attr("fill", "none").attr("stroke", "#666").attr("stroke-width", 1.6);

  g.append("g").attr("transform", `translate(${left},0)`)
    .call(d3.axisLeft(depth).tickValues(depthTicks).tickSizeInner(-4).tickSizeOuter(0).tickPadding(5).tickFormat(showDepth ? d3.format("d") : ""))
    .call(styleAxis, 15.5, "Lato");
  g.append("g").attr("transform", `translate(${right},0)`)
    .call(d3.axisRight(depth).tickValues(depthTicks).tickSizeInner(-4).tickSizeOuter(0).tickFormat(""))
    .call(styleAxis, 15.5, "Lato");
  [[bottom, d3.axisBottom], [top, d3.axisTop]].forEach(a => {
    g.append("g").attr("transform", `translate(0,${a[0]})`)
      .call(a[1](xScale).tickValues(ticks).tickSizeInner(-3).tickSizeOuter(0).tickFormat(""))
      .call(styleAxis, 15, "Lato");
  });
  g.append("g").selectAll("text.lab").data(labels).enter().append("text").attr("class", "lab")
    .attr("x", d => xScale(d) + labelDx).attr("y", 696).attr("text-anchor", "middle").attr("font-size", 15.5).text(d => Math.abs(d));
  g.append("text").attr("x", (left + right) / 2).attr("y", 356.7).attr("text-anchor", "middle").attr("font-size", 15.5).text(name);
};

const drawProfiles = () => {
  const wide = c => d3.scaleLinear().domain([-55, 55]).range([c - 39.05, c + 39.05]);
  const narrow = (a, b, c) => d3.scaleLinear().domain([-20, 0, 30]).range([a, b, c]);
  drawProfile("chl56", "Day 56", 407.3, wide(446.35), wideTicks, wideLabels, 2.5, day56Depths, day56Red, null, day56ChlDepth, day56Chl, true);
  drawProfile("chl91", "Day 91", 512, wide(551.25), wideTicks, wideLabels, 2.5, day91Depths, day91Red, null, day91ChlDepth, day91Chl, false);
  drawProfile("chl64", "Day 64", 625.2, narrow(629.7, 664.5, 699.6), narrowTicks, narrowLabels, 0, day64Depths, day64Red, day64Blue, day64ChlDepth, day64Chl, false);
  drawProfile("chl90", "Day 90", 728, narrow(732.9, 767, 802.1), narrowTicks, narrowLabels, 0, day90Depths, day90Red, day90Blue, day90ChlDepth, day90Chl, false);

  const t = svg.append("g").attr("class", "lato");
  t.append("text").attr("x", 497.6).attr("y", 339.3).attr("text-anchor", "middle").attr("font-size", 15.5).text("2002");
  t.append("text").attr("x", 715).attr("y", 339.3).attr("text-anchor", "middle").attr("font-size", 15.5).text("2003");
  t.append("text").attr("transform", "translate(366,508) rotate(-90)").attr("text-anchor", "middle").attr("font-size", 16).text("Depth (m)");
  const xl = t.append("text").attr("x", 608).attr("y", 716).attr("text-anchor", "middle").attr("font-size", 16);
  xl.append("tspan").text("Individuals");
  xl.append("tspan").attr("dy", -5).attr("font-size", 10.5).text("-3");
  xl.append("tspan").attr("dy", 5).text(" m");
};

// ---------- chlorophyll colour bar
const drawColorbar = () => {
  const g = svg.append("g").attr("class", "lato");
  const y = d3.scaleLinear().domain([0.4, 32.4]).range([684, 363.3]);
  addGradient("chlbar", [[0, chlColor(32)], [0.5, chlColor(16)], [1, chlColor(0)]]);
  g.append("rect").attr("x", 841).attr("y", 363.3).attr("width", 24.3).attr("height", 320.7)
    .attr("fill", "url(#chlbar)").attr("stroke", "#333").attr("stroke-width", 1.2);
  g.append("g").attr("transform", "translate(865.3,0)")
    .call(d3.axisRight(y).tickValues(chlTicks).tickSizeInner(3).tickSizeOuter(0))
    .call(styleAxis, 15.5, "Lato")
    .selectAll("text").attr("x", 11.7).attr("text-anchor", "middle");
  const label = g.append("text").attr("transform", "translate(911,512) rotate(-90)").attr("text-anchor", "middle").attr("font-size", 15.5);
  label.append("tspan").text("Chlorophyll ");
  label.append("tspan").attr("font-style", "italic").text("a");
  label.append("tspan").text(" (µg L");
  label.append("tspan").attr("dy", -5).attr("font-size", 10).text("-1");
  label.append("tspan").attr("dy", 5).text(")");
};

drawHeat();
drawPod();
drawBoxes();
drawProfiles();
drawColorbar();
</script>
</body>
</html>
